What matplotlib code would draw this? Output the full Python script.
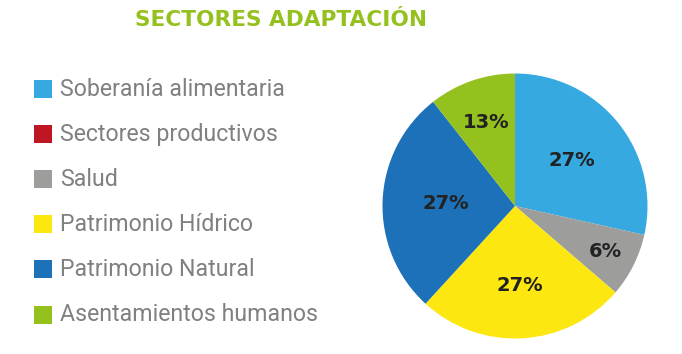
import numpy as np
import matplotlib
matplotlib.use("Agg")
import matplotlib.pyplot as plt
from matplotlib.patches import Rectangle

# datos
sectores = ["Soberanía alimentaria", "Sectores productivos", "Salud",
            "Patrimonio Hídrico", "Patrimonio Natural", "Asentamientos humanos"]
valores = [28.5, 0, 7.8, 25.5, 27.6, 10.6]   # tamaño de cada porción
etiquetas = ["27%", "", "6%", "27%", "27%", "13%"]
colores = ["#36a9e1", "#be1622", "#9d9d9c", "#fce711", "#1d71b8", "#95c11f"]
dist_etq = [0.55, 0.6, 0.76, 0.6, 0.52, 0.67]

W, H = 682, 354
fig = plt.figure(figsize=(W / 100, H / 100), dpi=100)
fig.patch.set_facecolor("white")

# titulo
fig.text(281 / W, 1 - 20 / H, "SECTORES ADAPTACIÓN", color="#95c11f",
         fontsize=15.6, fontweight="bold", family=["DejaVu Sans"],
         ha="center", va="center")

# leyenda manual
y0, dy = 89, 45.1
for i, (s, c) in enumerate(zip(sectores, colores)):
    yc = y0 + i * dy
    fig.add_artist(Rectangle((34 / W, 1 - (yc + 9) / H), 18 / W, 18 / H,
                             transform=fig.transFigure, facecolor=c, edgecolor="none"))
    fig.text(60 / W, 1 - yc / H, s, color="#808080", fontsize=16.7,
             family=["Roboto", "DejaVu Sans"], ha="left", va="center")

# pie
cx, cy, r = 515, 206, 132.5
ax = fig.add_axes([(cx - r) / W, 1 - (cy + r) / H, 2 * r / W, 2 * r / H])
wedges, _ = ax.pie(valores, colors=colores, startangle=90, counterclock=False,
                   radius=1, wedgeprops=dict(linewidth=0))
ax.set_xlim(-1, 1)
ax.set_ylim(-1, 1)
ax.set_aspect("equal")
ax.axis("off")
for w, t, d in zip(wedges, etiquetas, dist_etq):
    if not t:
        continue
    ang = np.deg2rad((w.theta1 + w.theta2) / 2)
    ax.text(d * np.cos(ang), d * np.sin(ang), t, ha="center", va="center",
            fontsize=14, fontweight="bold", color="#222222",
            family=["DejaVu Sans"])

fig.savefig("out.png", dpi=100)
